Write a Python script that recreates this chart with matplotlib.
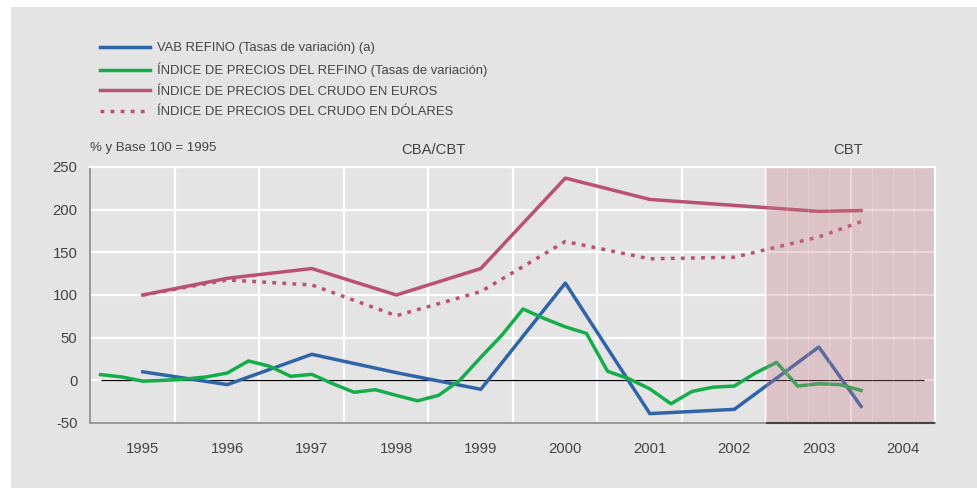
import matplotlib.pyplot as plt
import matplotlib.patches as mpatches

plt.rcParams['axes.unicode_minus'] = False

# datos anuales
anios = [1995, 1996, 1997, 1998, 1999, 2000, 2001, 2002, 2003, 2003.5]
vab_refino = [10, -5, 30.5, 9, -10.5, 114, -39, -34, 39, -30.5]
crudo_euros = [100, 119.6, 131, 100, 131, 237, 212, 205, 198, 199]
crudo_dolares = [100, 117.6, 111.8, 75.7, 104, 162.7, 142.4, 144.3, 168, 186]

# datos trimestrales
trimestres = [1994.5, 1994.75,
              1995.0, 1995.25, 1995.5, 1995.75,
              1996.0, 1996.25, 1996.5, 1996.75,
              1997.0, 1997.25, 1997.5, 1997.75,
              1998.0, 1998.25, 1998.5, 1998.75,
              1999.0, 1999.25, 1999.5, 1999.75,
              2000.0, 2000.25, 2000.5, 2000.75,
              2001.0, 2001.25, 2001.5, 2001.75,
              2002.0, 2002.25, 2002.5, 2002.75,
              2003.0, 2003.25, 2003.5]
precios_refino = [6.7, 4,
                  -1, 0, 1.5, 4,
                  8.6, 22.7, 16.5, 4.7,
                  7, -4, -14, -11,
                  -17.6, -24, -17.6, 0,
                  27, 53, 83.6, 72.5,
                  62.7, 55, 10.6, 2,
                  -10, -27.5, -13, -8,
                  -6.7, 8.6, 21, -6.7,
                  -4, -5, -11.8]

etiquetas = ["VAB REFINO (Tasas de variación) (a)",
             "ÍNDICE DE PRECIOS DEL REFINO (Tasas de variación)",
             "ÍNDICE DE PRECIOS DEL CRUDO EN EUROS",
             "ÍNDICE DE PRECIOS DEL CRUDO EN DÓLARES"]
ticks_y = [-50, 0, 50, 100, 150, 200, 250]
ticks_x = [1995, 1996, 1997, 1998, 1999, 2000, 2001, 2002, 2003, 2004]

azul = '#2f64a6'
verde = '#14ad4a'
rojo = '#b95272'
gris = '#e4e4e4'
texto = '#444444'
fuente = ['Liberation Sans', 'DejaVu Sans']

W, H = 978, 488
fig = plt.figure(figsize=(W / 100, H / 100), dpi=100)
fig.patch.set_facecolor('white')
fig.patches.append(mpatches.Rectangle((11 / W, 0), 1, 1 - 7 / H, transform=fig.transFigure,
                                      facecolor=gris, edgecolor='none', zorder=-5))

ax = fig.add_axes([90 / W, (H - 423) / H, (935 - 90) / W, (423 - 167) / H])
ax.set_facecolor(gris)
ax.set_xlim(1994.375, 2004.375)
ax.set_ylim(-50, 250)

# rejilla
for y in ticks_y[1:]:
    ax.axhline(y, color='white', lw=1.6, zorder=1)
for x in ticks_x[:-1]:
    ax.axvline(x + 0.375, color='white', lw=1.6, zorder=1)
ax.hlines(0, 1994.5, 2004.25, color='black', lw=0.9, zorder=1.5)

l1, = ax.plot(anios, vab_refino, color=azul, lw=2.5, zorder=2)
l2, = ax.plot(trimestres, precios_refino, color=verde, lw=2.5, zorder=2)
l3, = ax.plot(anios, crudo_euros, color=rojo, lw=2.5, zorder=2)
l4, = ax.plot(anios, crudo_dolares, color=rojo, lw=2.5, ls=(0, (1.1, 1.8)),
              dash_capstyle='butt', zorder=2)

# zona CBT
ax.axvspan(2002.375, 2004.375, facecolor=(0.79, 0.47, 0.53), alpha=0.3, lw=0, zorder=2.2)
for x in [2002.625, 2002.875, 2003.125, 2003.625, 2003.875, 2004.125]:
    ax.axvline(x, color='white', lw=1, alpha=0.2, zorder=2.3)
ax.hlines(-50, 2002.375, 2004.375, color='#444444', lw=1.5, zorder=3, clip_on=False)

for s in ['top', 'right']:
    ax.spines[s].set_color('white')
    ax.spines[s].set_linewidth(1.6)
ax.spines['left'].set_color('#8a8a8a')
ax.spines['bottom'].set_color('#8a8a8a')
ax.spines['left'].set_linewidth(1.2)
ax.spines['bottom'].set_linewidth(1.2)

ax.set_yticks(ticks_y)
ax.set_xticks(ticks_x)
ax.tick_params(length=0, labelsize=10.7, labelcolor=texto)
ax.tick_params(axis='x', pad=14)
ax.tick_params(axis='y', pad=9)
for lab in ax.get_xticklabels() + ax.get_yticklabels():
    lab.set_family(fuente)

fig.text(90 / W, 1 - 148 / H, "% y Base 100 = 1995", fontsize=9.5, color=texto,
         va='center', ha='left', family=fuente)
fig.text(433 / W, 1 - 150 / H, "CBA/CBT", fontsize=10.7, color=texto,
         va='center', ha='center', family=fuente)
fig.text(848 / W, 1 - 150 / H, "CBT", fontsize=10.7, color=texto,
         va='center', ha='center', family=fuente)

leg = fig.legend([l1, l2, l3, l4], etiquetas, loc='upper left',
                 bbox_to_anchor=(100 / W, 1 - 42 / H), frameon=False,
                 borderaxespad=0, borderpad=0, handlelength=3.8, handletextpad=0.55,
                 labelspacing=0.65,
                 prop={'family': fuente, 'size': 9.4})
for t in leg.get_texts():
    t.set_color(texto)

fig.savefig('out.png', dpi=100)
